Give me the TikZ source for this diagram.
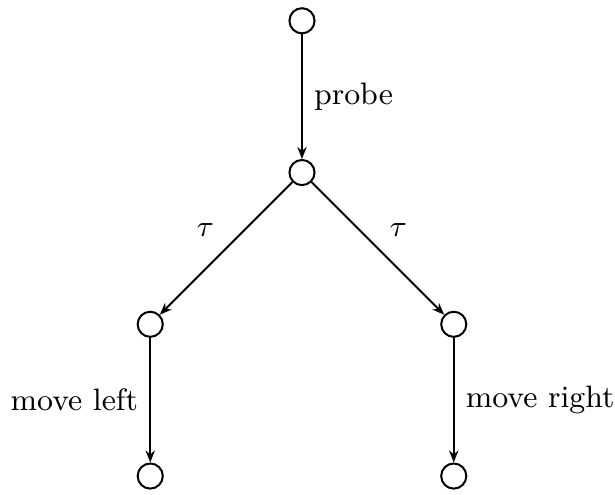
\documentclass[tikz,border=0pt]{standalone}
\usetikzlibrary{arrows.meta}
\begin{document}
\begin{tikzpicture}[>={Stealth[length=3.6pt, width=2.8pt]},
        font=\fontsize{9.3pt}{11pt}\selectfont,
        vertex/.style={circle, draw, line width=0.6pt, minimum size=0.265cm, inner sep=0pt},
        trans/.style={->, line width=0.6pt}]
        % page margins
        \useasboundingbox (-3.184,-0.19) rectangle (3.30,5.019);

        % states
        \node[vertex] (top) at (0,4.8) {};
        \node[vertex] (mid) at (0,3.2) {};
        \node[vertex] (left) at (-1.6,1.6) {};
        \node[vertex] (right) at (1.6,1.6) {};
        \node[vertex] (leftend) at (-1.6,0) {};
        \node[vertex] (rightend) at (1.6,0) {};

        % transitions
        \draw[trans] (top) -- node[right] {probe} (mid);
        \draw[trans] (mid) -- node[above left] {$\tau$} (left);
        \draw[trans] (mid) -- node[above right] {$\tau$} (right);
        \draw[trans] (left) -- node[left] {move left} (leftend);
        \draw[trans] (right) -- node[right] {move right} (rightend);
    \end{tikzpicture}
\end{document}
